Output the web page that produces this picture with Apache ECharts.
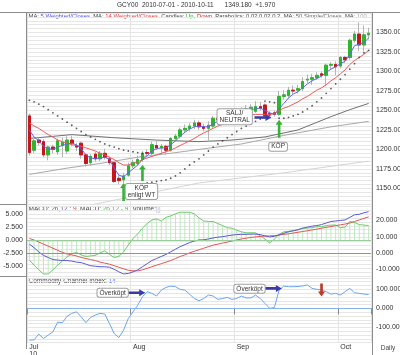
<!DOCTYPE html>
<html><head><meta charset="utf-8">
<script src="https://cdn.jsdelivr.net/npm/echarts@6.0.0/dist/echarts.min.js"></script>
<style>html,body{margin:0;padding:0;background:#fff;}#chart{width:400px;height:355px;}</style>
</head><body><div id="chart"></div>
<script>
// ---------- data ----------
const dates = ['2010-07-01','2010-07-02','2010-07-05','2010-07-06','2010-07-07','2010-07-08','2010-07-09','2010-07-12','2010-07-13','2010-07-14','2010-07-15','2010-07-16','2010-07-19','2010-07-20','2010-07-21','2010-07-22','2010-07-23','2010-07-26','2010-07-27','2010-07-28','2010-07-29','2010-07-30',
'2010-08-02','2010-08-03','2010-08-04','2010-08-05','2010-08-06','2010-08-09','2010-08-10','2010-08-11','2010-08-12','2010-08-13','2010-08-16','2010-08-17','2010-08-18','2010-08-19','2010-08-20','2010-08-23','2010-08-24','2010-08-25','2010-08-26','2010-08-27','2010-08-30','2010-08-31',
'2010-09-01','2010-09-02','2010-09-03','2010-09-06','2010-09-07','2010-09-08','2010-09-09','2010-09-10','2010-09-13','2010-09-14','2010-09-15','2010-09-16','2010-09-17','2010-09-20','2010-09-21','2010-09-22','2010-09-23','2010-09-24','2010-09-27','2010-09-28','2010-09-29','2010-09-30',
'2010-10-01','2010-10-04','2010-10-05','2010-10-06','2010-10-07','2010-10-08','2010-10-11'];
const monthLabels = {'2010-07-01':'Jul\n10','2010-08-02':'Aug','2010-09-01':'Sep','2010-10-01':'Oct'};

const opens  = [1243,1199,1212,1210,1193,1203,1197,1205,1198,1212, 1205,1208,1193,1183,1194,1188,1195,1188,1183,1163, 1161,1167,1179,1182,1187,1196,1195,1205,1202,1204, 1199,1214,1217,1225,1227,1230,1234,1229,1227,1230, 1240,1235,1238,1245,1248,1251,1249,1252,1249,1255, 1257,1246,1247,1245,1268,1269,1276,1276,1278,1289, 1290,1292,1297,1295,1308,1309,1307,1318,1318,1340, 1348,1334,1347];
const closes = [1196,1211,1209,1193,1203,1200,1211,1209,1212,1208, 1203,1193,1182,1191,1188,1195,1190,1183,1159,1160, 1166,1179,1183,1187,1195,1195,1206,1202,1204,1199, 1214,1217,1225,1227,1230,1234,1229,1227,1231,1240, 1238,1238,1245,1248,1251,1249,1252,1254,1255,1253, 1243,1244,1245,1268,1270,1276,1275,1278,1287,1290, 1292,1295,1295,1308,1309,1306,1318,1315,1340,1348, 1334,1347,1349];
const lows   = [1192,1195,1205,1190,1186,1195,1193,1190,1194,1204, 1198,1188,1178,1179,1184,1185,1187,1180,1157,1155, 1157,1165,1176,1179,1184,1191,1190,1199,1195,1193, 1197,1210,1214,1221,1223,1226,1225,1223,1210,1227, 1234,1232,1236,1243,1244,1246,1245,1249,1247,1250, 1240,1240,1242,1243,1264,1266,1271,1272,1275,1285, 1283,1289,1292,1281,1303,1295,1304,1311,1315,1337, 1326,1326,1341];
const highs  = [1246,1216,1215,1213,1205,1206,1214,1215,1217,1218, 1208,1210,1195,1194,1197,1198,1201,1191,1185,1167, 1170,1183,1187,1192,1198,1200,1210,1211,1207,1206, 1216,1220,1228,1232,1234,1238,1237,1233,1236,1243, 1244,1241,1248,1251,1253,1254,1257,1258,1262,1261, 1259,1249,1250,1275,1276,1280,1282,1283,1293,1296, 1297,1299,1300,1310,1312,1313,1320,1320,1342,1352, 1363,1359,1356];

const wma5  = [1225,1216,1211,1204,1201,1200,1203,1205,1207,1208, 1206,1201,1193,1189,1188,1189,1190,1187,1176,1167, 1165,1170,1175,1180,1187,1192,1198,1201,1202,1202, 1206,1211,1217,1222,1226,1229,1230,1229,1229,1233, 1236,1237,1240,1244,1248,1250,1250,1251,1252,1253, 1250,1247,1245,1252,1259,1266,1271,1274,1279,1284, 1288,1291,1294,1299,1303,1306,1310,1313,1322,1333, 1335,1337,1343];
const wma14 = [1234,1230,1227,1223,1219,1216,1212,1210,1208,1206, 1205,1204,1202,1200,1198,1195,1193,1190,1187,1183, 1180,1180,1182,1184,1187,1189,1191,1193,1195,1197, 1199,1202,1205,1208,1211,1214,1218,1221,1224,1227, 1230,1232,1235,1238,1240,1242,1243,1244,1245,1245, 1245,1245,1246,1250,1253,1255,1258,1261,1265,1268, 1272,1276,1279,1283,1288,1292,1297,1302,1309,1314, 1318,1322,1327];
// smooth averages read at a few days: [day index, value]
const sma50Pts  = [[0,1214],[9,1219],[18,1215],[27,1212],[36,1210],[43,1212],[50,1216],[57,1225],[64,1242],[68,1251],[72,1259]];
const sma100Pts = [[0,1168],[8,1176],[15,1182],[24,1191],[30,1195],[36,1200],[45,1207],[54,1218],[64,1229],[72,1236]];
const sma200Pts = [[10,1125],[36,1157],[54,1170],[72,1185]];
const sar = [1263,1261,1258,1255,1251,1247,1243,1239,1235,1231, 1227,1223,1219,1216,1213,1210,1207,1205,1203,1201, 1199,1198,1197,1196,1195,1157,1158,1159,1160,1161, 1163,1166,1170,1175,1180,1184,1188,1193,1198,1203, 1207,1211,1215,1219,1223,1227,1230,1233,1236,1239, 1262,1261,1260,1240,1240,1241,1243,1245,1248,1252, 1256,1261,1266,1272,1278,1284,1290,1296,1303,1310, 1318,1324,1327];

const macdLine   = [-0.8,-1.5,-2.3,-3.0,-3.4,-3.8,-3.9,-4.0,-4.0,-4.1, -4.3,-4.4,-4.7,-5.0,-5.1,-5.2,-5.2,-5.3,-5.7,-6.2, -6.6,-6.5,-6.2,-5.8,-5.2,-4.6,-4.0,-3.6,-3.2,-2.8, -2.3,-1.8,-1.3,-0.9,-0.5,-0.2,0.0,0.05,0.2,0.4, 0.55,0.65,0.8,0.95,1.05,1.1,1.1,1.15,1.15,1.05, 0.8,0.6,0.7,1.0,1.3,1.6,1.8,2.0,2.3,2.5, 2.7,2.8,3.0,3.3,3.6,3.7,3.8,3.9,4.4,4.9, 5.0,5.3,5.5];
const signalLine = [0.3,0.0,-0.4,-0.8,-1.2,-1.6,-2.0,-2.4,-2.7,-2.9, -3.1,-3.4,-3.6,-3.8,-4.0,-4.3,-4.5,-4.7,-5.0,-5.3, -5.6,-5.9,-6.0,-6.0,-5.8,-5.5,-5.2,-4.9,-4.6,-4.3, -4.0,-3.6,-3.2,-2.9,-2.5,-2.2,-1.9,-1.6,-1.3,-1.0, -0.8,-0.6,-0.4,-0.2,0.0,0.2,0.35,0.5,0.6,0.7, 0.75,0.8,0.85,0.95,1.1,1.2,1.35,1.5,1.65,1.8, 1.95,2.1,2.3,2.45,2.6,2.8,2.95,3.1,3.3,3.6, 3.9,4.2,4.5];
const macdHist   = [-3.9,-4.9,-5.8,-6.6,-6.6,-5.8,-4.9,-4.1,-3.3,-2.7, -2.4,-2.9,-3.2,-3.1,-3.0,-2.5,-2.1,-2.8,-3.4,-3.2, -2.3,-1.0,0.3,1.2,2.3,3.2,3.9,4.1,3.7,4.4, 4.7,5.1,5.4,5.4,5.4,5.1,4.3,3.7,3.6,3.6, 3.2,2.8,2.4,2.3,1.9,1.6,1.4,1.4,1.4,0.8, 0.2,-0.6,0.2,1.1,1.6,1.7,1.8,2.0,2.3,2.3, 2.4,2.6,2.6,2.8,2.9,2.9,2.4,2.5,3.6,3.4, 3.0,2.9,2.8];
const cci = [-167,-165,-135,-158,-140,-123,-72,-75,-42,-26, -18,-44,-75,-47,-35,-26,-30,-79,-132,-153, -114,-53,-18,17,61,88,79,65,96,110, 117,114,100,96,75,52,40,52,70,65, 47,52,58,47,52,65,55,55,70,52, 26,0,5,96,117,114,114,115,118,123, 105,100,96,88,75,79,70,88,105,82, 79,75,73];

// annotations (day index, value on the panel's own axis)
const mainNotes   = [{i:24, v:1146, dx:-1, text:'KÖP\nenligt WT'}, {i:44, v:1242, dx:-2, text:'SÄLJ/\nNEUTRAL'}, {i:53, v:1203.5, dx:-1, text:'KÖP'}];
const mainUp      = [{i:20, v:1157, len:18}, {i:24, v:1180, len:16}, {i:53, v:1238, len:18}];
const mainRight   = [{i:50, v:1241, dx:-2}];
const cciNotes    = [{i:18, v:82, dx:-1.5, text:'Överköpt'}, {i:47, v:103, dx:-1.3, text:'Överköpt'}];
const cciRight    = [{i:23, v:82, dx:-1}, {i:52, v:105, dx:-1}];
const cciDown     = [{i:62, v:96}];

// ---------- chart ----------
const F = "'Liberation Sans', Arial, Helvetica, sans-serif";
const isMonth = (idx) => monthLabels[dates[idx]] !== undefined;
const lab = (m, lo, hi) => (v) => (v >= lo - 1e-9 && v <= hi + 1e-9 && Math.abs(v / m - Math.round(v / m)) < 1e-6) ? v.toFixed(3) : '';
const UP = 'path://M4,0L8,5L5.5,5L5.5,18L2.5,18L2.5,5L0,5Z';
const RIGHT = 'path://M0,2.2L11,2.2L11,0L17,3.5L11,7L11,4.8L0,4.8Z';
const DOWN = 'path://M2.5,0L5.5,0L5.5,8L8,8L4,13L0,8L2.5,8Z';
const noteItem = (n) => ({coord:[n.i, n.v], symbol:'rect', symbolSize:1, itemStyle:{color:'rgba(0,0,0,0)'},
  label:{show:true, position:'inside', offset:[n.dx||0,0], formatter:n.text, color:'#333', fontSize:6.5, lineHeight:7, fontFamily:F,
         backgroundColor:'#fff', borderColor:'#a0a0a0', borderWidth:1, borderRadius:2, padding:[1,2,0,2]}});

const xAx = (gi, show) => ({
  type:'category', gridIndex:gi, data:dates, boundaryGap:true,
  axisLine:{show:show, lineStyle:{color:'#8c8c8c', width:1}},
  axisTick:{show:show, interval:(i)=>isMonth(i), length:6, lineStyle:{color:'#8c8c8c'}},
  axisLabel:{show:show, interval:(i)=>isMonth(i), formatter:(v)=>monthLabels[v]||'', align:'left', margin:1,
             fontSize:7, lineHeight:6.8, color:'#333', fontFamily:F},
  splitLine:{show:true, interval:(i)=>isMonth(i), lineStyle:{color:'#e4e4e4', width:1}}
});
const yLab = (fmt, margin) => ({formatter:fmt, fontSize:7, color:'#333', margin:margin, fontFamily:F});

const chart = echarts.init(document.getElementById('chart'), null, {renderer:'canvas'});
chart.setOption({
  animation:false,
  backgroundColor:'#fff',
  grid:[
    {left:27, top:13, width:344, height:191, outerBoundsMode:'none', containLabel:false},
    {left:27, top:204, width:344, height:72, outerBoundsMode:'none', containLabel:false},
    {left:27, top:276, width:344, height:66.7, outerBoundsMode:'none', containLabel:false}
  ],
  xAxis:[xAx(0,false), xAx(1,false), xAx(2,true)],
  yAxis:[
    {type:'value', gridIndex:0, position:'right', min:1130, max:1375, interval:5, axisLine:{show:false}, axisTick:{show:false},
     axisLabel:yLab(lab(25,1150,1350),5), splitLine:{lineStyle:{color:'#e6e6e6', width:1}}},
    {type:'value', gridIndex:1, position:'left', min:-7, max:7, interval:0.25, axisLine:{show:false}, axisTick:{show:false},
     axisLabel:yLab(lab(2.5,-5,5),4), splitLine:{lineStyle:{color:['#e6e6e6','rgba(0,0,0,0)','rgba(0,0,0,0)'], width:1}}},
    {type:'value', gridIndex:1, position:'right', min:-14, max:30, interval:2, axisLine:{show:false}, axisTick:{show:false},
     axisLabel:yLab(lab(10,-10,20),5), splitLine:{show:false}},
    {type:'value', gridIndex:2, position:'right', min:-180, max:170, interval:20, axisLine:{show:false}, axisTick:{show:false},
     axisLabel:yLab(lab(100,-100,100),5), splitLine:{lineStyle:{color:'#e6e6e6', width:1}}}
  ],
  series:[
    {type:'line', xAxisIndex:0, yAxisIndex:0, data:sma200Pts, symbol:'none', silent:true, z:2, lineStyle:{color:'#d4d4d4', width:1}},
    {type:'line', xAxisIndex:0, yAxisIndex:0, data:sma100Pts, symbol:'none', silent:true, z:2, lineStyle:{color:'#a9a9a9', width:1}},
    {type:'line', xAxisIndex:0, yAxisIndex:0, data:sma50Pts, symbol:'none', silent:true, z:2, lineStyle:{color:'#707070', width:1}},
    {type:'candlestick', xAxisIndex:0, yAxisIndex:0, silent:true, z:3, barWidth:3,
     data:dates.map((d,i)=>[opens[i],closes[i],lows[i],highs[i]]),
     itemStyle:{color:'rgba(0,0,0,0)', color0:'rgba(0,0,0,0)', borderColor:'#b4b4b4', borderColor0:'#b4b4b4', borderWidth:1}},
    {type:'candlestick', xAxisIndex:0, yAxisIndex:0, silent:true, z:4, barWidth:3,
     data:dates.map((d,i)=>[opens[i],closes[i],Math.min(opens[i],closes[i]),Math.max(opens[i],closes[i])]),
     itemStyle:{color:'#2db52d', color0:'#c4161c', borderColor:'#2db52d', borderColor0:'#c4161c', borderWidth:1}},
    {type:'line', xAxisIndex:0, yAxisIndex:0, data:wma14, symbol:'none', silent:true, z:5, lineStyle:{color:'#ec5a5a', width:1}},
    {type:'line', xAxisIndex:0, yAxisIndex:0, data:wma5, symbol:'none', silent:true, z:5, lineStyle:{color:'#6464ee', width:1},
     markPoint:{silent:true, z:10, data:[
       ...mainUp.map(a=>({coord:[a.i,a.v], symbol:UP, symbolSize:[7,a.len], symbolOffset:[0,a.len/2], itemStyle:{color:'#36b336'}, label:{show:false}})),
       ...mainRight.map(a=>({coord:[a.i,a.v], symbol:RIGHT, symbolSize:[17,7], symbolOffset:[a.dx,0], itemStyle:{color:'#3a3aa8'}, label:{show:false}})),
       ...mainNotes.map(noteItem)
     ]}},
    {type:'scatter', xAxisIndex:0, yAxisIndex:0, data:sar, symbol:'circle', symbolSize:1.8, silent:true, z:6, itemStyle:{color:'#333'}},

    {type:'bar', xAxisIndex:1, yAxisIndex:1, data:macdHist, barWidth:1, silent:true, z:2, itemStyle:{color:'#bfe8bf'}},
    {type:'line', xAxisIndex:1, yAxisIndex:1, data:macdHist, symbol:'none', silent:true, z:3, lineStyle:{color:'#6ccc6c', width:1},
     markLine:{silent:true, symbol:'none', label:{show:false}, lineStyle:{color:'#9ccc9c', width:1, type:'solid'}, data:[{yAxis:0}]}},
    {type:'line', xAxisIndex:1, yAxisIndex:2, data:[], symbol:'none', silent:true,
     markLine:{silent:true, symbol:'none', label:{show:false}, lineStyle:{color:'#8a8ad8', width:1, type:'solid'}, data:[{yAxis:0}]}},
    {type:'line', xAxisIndex:1, yAxisIndex:1, data:signalLine, symbol:'none', silent:true, z:4, lineStyle:{color:'#e05858', width:1}},
    {type:'line', xAxisIndex:1, yAxisIndex:1, data:macdLine, symbol:'none', silent:true, z:4, lineStyle:{color:'#5a5ad2', width:1}},

    {type:'line', xAxisIndex:2, yAxisIndex:3, data:cci, symbol:'none', silent:true, z:4, lineStyle:{color:'#6aa6ec', width:1},
     markLine:{silent:true, symbol:'none', label:{show:false}, lineStyle:{color:'#86b2ee', width:1, type:'solid'}, data:[{yAxis:0}]},
     markPoint:{silent:true, z:10, data:[
       ...cciRight.map(a=>({coord:[a.i,a.v], symbol:RIGHT, symbolSize:[17,7], symbolOffset:[a.dx,0], itemStyle:{color:'#3a3aa8'}, label:{show:false}})),
       ...cciDown.map(a=>({coord:[a.i,a.v], symbol:DOWN, symbolSize:[7,13], itemStyle:{color:'#b83a2a'}, label:{show:false}})),
       ...cciNotes.map(noteItem)
     ]}}
  ],
  graphic:{elements:[
    {type:'line', silent:true, shape:{x1:0,y1:12.5,x2:400,y2:12.5}, style:{stroke:'#8c8c8c', lineWidth:1}},
    {type:'line', silent:true, shape:{x1:26.5,y1:12.5,x2:26.5,y2:349}, style:{stroke:'#8c8c8c', lineWidth:1}},
    {type:'line', silent:true, shape:{x1:372.5,y1:12.5,x2:372.5,y2:355}, style:{stroke:'#8c8c8c', lineWidth:1}},
    {type:'line', silent:true, shape:{x1:0,y1:204.5,x2:373,y2:204.5}, style:{stroke:'#8c8c8c', lineWidth:1}},
    {type:'line', silent:true, shape:{x1:0,y1:276.5,x2:373,y2:276.5}, style:{stroke:'#8c8c8c', lineWidth:1}},
    {type:'text', silent:true, x:117, y:5.5, style:{text:'GCY00  2010-07-01 - 2010-10-11      1349.180  +1.970', fill:'#333', font:'6.5px '+F, verticalAlign:'middle'}},
    {type:'text', silent:true, x:28.5, y:16.8, style:{
      text:'{k|MA:} {b|5 Weighted/Closes}  {k|MA:} {r|14 Weighted/Closes}  {k|Candles:} {g|Up,} {r2|Down}  {k|Parabolics:} {k|0.02 0.02 0.2}  {k|MA:} {d|50 Simple/Closes}  {k|MA:} {l|100}',
      verticalAlign:'middle', font:'5.9px '+F,
      rich:{k:{fill:'#444',fontSize:5.9,fontFamily:F}, b:{fill:'#5050ee',fontSize:5.9,fontFamily:F}, r:{fill:'#e03a3a',fontSize:5.9,fontFamily:F},
            g:{fill:'#22aa22',fontSize:5.9,fontFamily:F}, r2:{fill:'#cc2222',fontSize:5.9,fontFamily:F}, d:{fill:'#666',fontSize:5.9,fontFamily:F}, l:{fill:'#aaa',fontSize:5.9,fontFamily:F}}}},
    {type:'text', silent:true, x:28.5, y:209.5, style:{
      text:'{k|MACD:} {b|26,12} {k|:} {r|9}', verticalAlign:'middle', font:'6.5px '+F,
      rich:{k:{fill:'#444',fontSize:6.5,fontFamily:F}, b:{fill:'#4a4ad0',fontSize:6.5,fontFamily:F}, r:{fill:'#d04040',fontSize:6.5,fontFamily:F}}}},
    {type:'text', silent:true, x:80, y:209.5, style:{
      text:'{k|MACD:} {g|26,12 - 9}', verticalAlign:'middle', font:'6.5px '+F,
      rich:{k:{fill:'#444',fontSize:6.5,fontFamily:F}, g:{fill:'#40b840',fontSize:6.5,fontFamily:F}}}},
    {type:'text', silent:true, x:132.5, y:209.5, style:{text:'Volume:', fill:'#444', font:'6.5px '+F, verticalAlign:'middle'}},
    {type:'text', silent:true, x:155.5, y:209.5, style:{text:'|||', fill:'#b0b0d8', font:'6.5px '+F, verticalAlign:'middle'}},
    {type:'text', silent:true, x:28.5, y:281.5, style:{
      text:'{k|Commodity Channel Index:} {b|14}', verticalAlign:'middle', font:'6.5px '+F,
      rich:{k:{fill:'#444',fontSize:6.5,fontFamily:F}, b:{fill:'#4a7ae0',fontSize:6.5,fontFamily:F}}}},
    {type:'text', silent:true, x:388, y:348.5, style:{text:'Daily', fill:'#444', font:'6.5px '+F, align:'center', verticalAlign:'middle'}}
  ]}
});
</script></body></html>
